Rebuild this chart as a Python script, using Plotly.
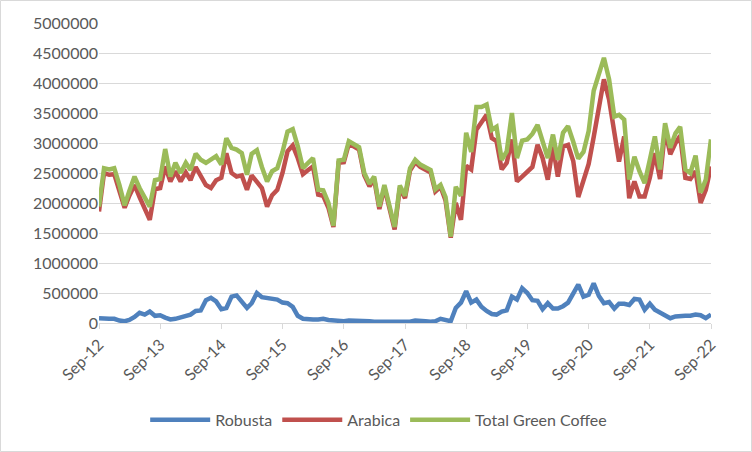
import pandas as pd
import plotly.graph_objects as go

# monthly values, Sep-12 .. Sep-22 (millions of bags)
months = pd.date_range("2012-09-01", "2022-09-01", freq="MS")

robusta = [
    0.08, 0.07, 0.07, 0.07, 0.04, 0.03, 0.05, 0.10, 0.17, 0.14,
    0.19, 0.12, 0.13, 0.09, 0.06, 0.07, 0.09, 0.12, 0.14, 0.20,
    0.21, 0.38, 0.42, 0.36, 0.23, 0.25, 0.44, 0.46, 0.35, 0.25,
    0.33, 0.50, 0.43, 0.42, 0.41, 0.39, 0.34, 0.33, 0.27, 0.12,
    0.07, 0.06, 0.06, 0.06, 0.07, 0.05, 0.04, 0.03, 0.03, 0.04,
    0.04, 0.03, 0.03, 0.03, 0.02, 0.02, 0.02, 0.02, 0.02, 0.02,
    0.02, 0.02, 0.04, 0.04, 0.03, 0.02, 0.03, 0.07, 0.05, 0.03,
    0.25, 0.34, 0.53, 0.34, 0.39, 0.27, 0.20, 0.15, 0.14, 0.19,
    0.21, 0.44, 0.39, 0.58, 0.50, 0.38, 0.37, 0.23, 0.33, 0.24,
    0.24, 0.28, 0.34, 0.50, 0.64, 0.44, 0.47, 0.66, 0.45, 0.33,
    0.35, 0.24, 0.32, 0.32, 0.30, 0.40, 0.39, 0.22, 0.32, 0.22,
    0.17, 0.12, 0.08, 0.11, 0.12, 0.12, 0.12, 0.14, 0.13, 0.08,
    0.14,
]

arabica = [
    1.86, 2.50, 2.47, 2.48, 2.20, 1.92, 2.12, 2.30, 2.10, 1.92,
    1.72, 2.23, 2.25, 2.61, 2.36, 2.53, 2.36, 2.51, 2.38, 2.60,
    2.45, 2.30, 2.25, 2.38, 2.42, 2.83, 2.50, 2.44, 2.46, 2.22,
    2.46, 2.36, 2.25, 1.94, 2.13, 2.22, 2.50, 2.86, 2.96, 2.75,
    2.48, 2.55, 2.61, 2.14, 2.12, 1.92, 1.60, 2.67, 2.68, 2.99,
    2.94, 2.89, 2.46, 2.28, 2.40, 1.90, 2.26, 1.86, 1.56, 2.25,
    2.08, 2.54, 2.68, 2.60, 2.56, 2.51, 2.19, 2.27, 2.04, 1.42,
    2.00, 1.72, 2.62, 2.56, 3.22, 3.33, 3.47, 3.08, 3.03, 2.56,
    2.67, 3.06, 2.36, 2.44, 2.52, 2.60, 2.97, 2.75, 2.39, 2.94,
    2.44, 2.94, 2.97, 2.70, 2.10, 2.35, 2.65, 3.10, 3.61, 4.06,
    3.72, 3.11, 2.69, 3.11, 2.08, 2.36, 2.11, 2.11, 2.42, 2.83,
    2.40, 3.22, 2.81, 3.00, 3.12, 2.42, 2.40, 2.53, 2.00, 2.22,
    2.61,
]

total_green = [
    1.94, 2.58, 2.56, 2.58, 2.30, 1.96, 2.20, 2.44, 2.25, 2.08,
    1.94, 2.38, 2.40, 2.90, 2.44, 2.67, 2.50, 2.67, 2.55, 2.82,
    2.72, 2.67, 2.72, 2.78, 2.64, 3.08, 2.92, 2.89, 2.83, 2.47,
    2.82, 2.88, 2.60, 2.36, 2.53, 2.58, 2.85, 3.19, 3.23, 2.95,
    2.58, 2.66, 2.75, 2.22, 2.21, 2.00, 1.62, 2.71, 2.72, 3.03,
    2.98, 2.93, 2.50, 2.32, 2.44, 1.94, 2.30, 1.90, 1.60, 2.29,
    2.12, 2.58, 2.72, 2.64, 2.60, 2.55, 2.23, 2.30, 2.10, 1.44,
    2.27, 2.12, 3.17, 2.85, 3.60, 3.60, 3.64, 3.22, 3.27, 2.72,
    2.86, 3.50, 2.75, 3.04, 3.06, 3.15, 3.30, 3.00, 2.75, 3.14,
    2.72, 3.17, 3.28, 3.02, 2.74, 2.85, 3.20, 3.87, 4.17, 4.42,
    4.06, 3.44, 3.47, 3.39, 2.39, 2.77, 2.53, 2.33, 2.72, 3.11,
    2.56, 3.33, 2.92, 3.16, 3.27, 2.56, 2.50, 2.79, 2.17, 2.39,
    3.06,
]

series = [
    ("Robusta", robusta, "#4F81BD"),
    ("Arabica", arabica, "#C0504D"),
    ("Total Green Coffee", total_green, "#9BBB59"),
]

fig = go.Figure()
for name, vals, col in series:
    fig.add_trace(go.Scatter(
        x=months, y=[v * 1e6 for v in vals], mode="lines", name=name,
        line=dict(color=col, width=4.5, shape="linear"),
    ))

grey = "#595959"
fig.update_layout(
    width=752, height=452,
    margin=dict(l=99, r=41, t=23, b=129),
    plot_bgcolor="white", paper_bgcolor="white",
    font=dict(family="Lato, Open Sans, sans-serif", size=16, color=grey),
    showlegend=True,
    legend=dict(orientation="h", x=0.457, xanchor="center", y=-0.323, yanchor="middle",
                font=dict(size=16, color=grey), itemwidth=60, traceorder="normal"),
    xaxis=dict(
        range=[months[0], months[-1]],
        tickformat="%b-%y", dtick="M12", tick0="2012-09-01",
        tickangle=-45, ticks="outside", ticklen=5, tickcolor="#D9D9D9",
        showline=True, linecolor="#D9D9D9", linewidth=1,
        showgrid=False, zeroline=False,
    ),
    yaxis=dict(
        range=[0, 5000000], dtick=500000, tickformat="d",
        showgrid=True, gridcolor="#D9D9D9", gridwidth=1,
        zeroline=False, showline=False, ticks="",
    ),
    shapes=[dict(
        type="rect", xref="paper", yref="paper",
        x0=-98.5 / 612, x1=652.5 / 612, y0=-128.5 / 300, y1=1 + 22.5 / 300,
        line=dict(color="#D9D9D9", width=1), fillcolor="rgba(0,0,0,0)", layer="below",
    )],
)

# page has a default body margin; drop it so the chart sits at the window corner
fig.write_html("out.html", config={"displayModeBar": False},
               post_script="document.body.style.margin='0';")
